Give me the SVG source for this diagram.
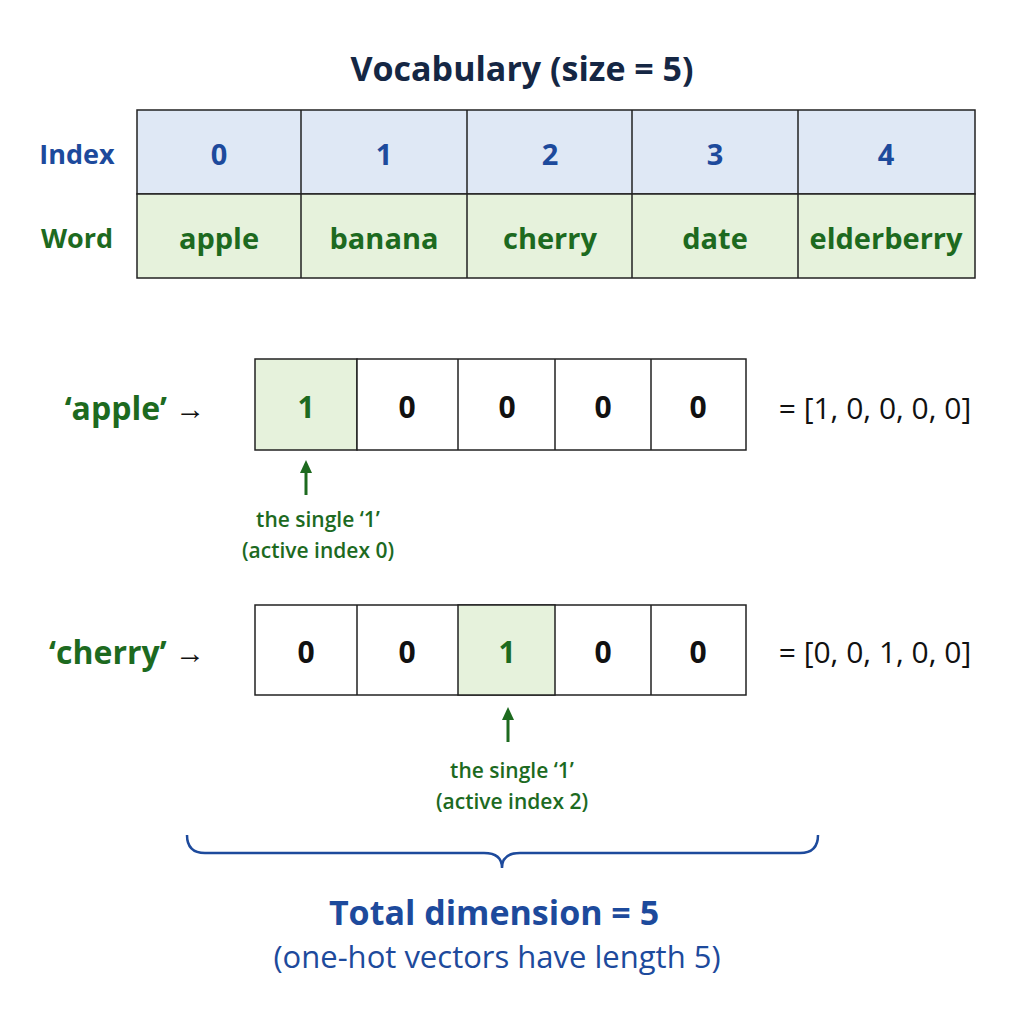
<svg xmlns="http://www.w3.org/2000/svg" width="1024" height="1024" viewBox="0 0 1024 1024">
<style>
text{font-family:"Open Sans","Noto Sans",sans-serif;text-anchor:middle;dominant-baseline:central}
.b{font-weight:bold}
.blue{fill:#1d4a9c}.green{fill:#1d6a1f}.dark{fill:#111}
.cell{stroke:#222;stroke-width:1.5}
</style>
<defs><marker id="ah" markerUnits="userSpaceOnUse" markerWidth="14" markerHeight="14" refX="7" refY="7" orient="auto"><path d="M0,1 L13,7 L0,13 Z" fill="#1d6a1f"/></marker></defs>
<rect width="1024" height="1024" fill="#fff"/>
<text x="522" y="68" class="b" font-size="34" fill="#152744">Vocabulary (size = 5)</text>
<g id="table">
<rect x="137" y="110" width="838" height="84" fill="#dfe8f5" class="cell"/>
<rect x="137" y="194" width="838" height="84" fill="#e6f2dc" class="cell"/>
<path d="M301,110V278M467,110V278M632,110V278M798,110V278" class="cell"/>
<text x="77" y="153" class="b blue" font-size="27">Index</text>
<text x="77" y="237" class="b green" font-size="27">Word</text>
<g class="b blue" font-size="29"><text x="219" y="153">0</text><text x="384" y="153">1</text><text x="550" y="153">2</text><text x="715" y="153">3</text><text x="886" y="153">4</text></g>
<g class="b green" font-size="29"><text x="219" y="237">apple</text><text x="384" y="237">banana</text><text x="550" y="237">cherry</text><text x="715" y="237">date</text><text x="886" y="237">elderberry</text></g>
</g>
<g id="vec1">
<text x="135" y="407" class="b green" font-size="32">‘apple’ <tspan class="dark" font-weight="normal" font-size="30">→</tspan></text>
<rect x="255" y="359" width="102" height="91" fill="#e6f2dc" class="cell"/>
<rect x="357" y="359" width="389" height="91" fill="#fff" class="cell"/>
<path d="M458,359V450M555,359V450M651,359V450" class="cell"/>
<g class="b dark" font-size="30"><text x="306" y="406" fill="#1d6a1f">1</text><text x="407" y="406">0</text><text x="507" y="406">0</text><text x="603" y="406">0</text><text x="698" y="406">0</text></g>
<text x="875" y="407" class="dark" font-size="30">= [1, 0, 0, 0, 0]</text>
</g>
<g id="vec2">
<text x="127" y="651" class="b green" font-size="32">‘cherry’ <tspan class="dark" font-weight="normal" font-size="30">→</tspan></text>
<rect x="255" y="605" width="491" height="90" fill="#fff" class="cell"/>
<rect x="458" y="605" width="97" height="90" fill="#e6f2dc" class="cell"/>
<path d="M357,605V695M651,605V695" class="cell"/>
<g class="b dark" font-size="30"><text x="306" y="651">0</text><text x="407" y="651">0</text><text x="507" y="651" fill="#1d6a1f">1</text><text x="603" y="651">0</text><text x="698" y="651">0</text></g>
<text x="875" y="651" class="dark" font-size="30">= [0, 0, 1, 0, 0]</text>
</g>
<g id="connectors" stroke="#1d6a1f" stroke-width="3" fill="none">
<path d="M306,495V466" marker-end="url(#ah)"/>
<path d="M508,742V713" marker-end="url(#ah)"/>
<path d="M187,835 Q187,853 205,853 H484 Q502,853 502,868 Q502,853 520,853 H800 Q818,853 818,835" stroke="#1d4a9c" stroke-width="2.5"/>
</g>
<g id="notes" class="green" font-weight="600" font-size="21">
<text x="318" y="519">the single ‘1’</text><text x="318" y="550">(active index 0)</text>
<text x="512" y="770">the single ‘1’</text><text x="512" y="801">(active index 2)</text>
</g>
<g id="total">
<text x="494" y="912" class="b blue" font-size="34">Total dimension = 5</text>
<text x="497" y="956" class="blue" font-size="31">(one-hot vectors have length 5)</text>
</g>
</svg>
